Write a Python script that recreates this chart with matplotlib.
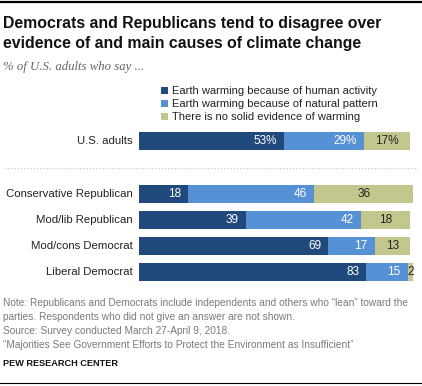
import matplotlib.pyplot as plt
from matplotlib.lines import Line2D

plt.rcParams["font.family"] = ["Liberation Sans", "DejaVu Sans"]

W, H = 422, 386

# data
groups = ["U.S. adults", "Conservative Republican", "Mod/lib Republican",
          "Mod/cons Democrat", "Liberal Democrat"]
human = [53, 18, 39, 69, 83]
natural = [29, 46, 42, 17, 15]
no_evidence = [17, 36, 18, 13, 2]
series_names = ["Earth warming because of human activity",
                "Earth warming because of natural pattern",
                "There is no solid evidence of warming"]
colors = ["#20497c", "#5690d5", "#c3c78e"]
text_colors = ["white", "white", "#222222"]

# layout (row units; US adults row sits apart from the rest)
ypos = [0, 2.04, 3.04, 4.04, 5.04]
bar_h = 0.66


def fx(px):
    return px / W


def fy(px):
    return 1 - px / H


fig = plt.figure(figsize=(W / 100, H / 100), dpi=100)
fig.patch.set_facecolor("white")

# axes: x from 139 to 413 px, y from 128 to 286 px
ax = fig.add_axes([fx(139), fy(286), fx(413) - fx(139), (286 - 128) / H])
ax.set_xlim(0, 100)
ax.set_ylim((286 - 141) / 26, -(141 - 128) / 26)
ax.axis("off")

left = [0] * len(groups)
containers = []
for i, vals in enumerate([human, natural, no_evidence]):
    bc = ax.barh(ypos, vals, left=left, height=bar_h, color=colors[i],
                 label=series_names[i], linewidth=0)
    containers.append(bc)
    for j, v in enumerate(vals):
        txt = f"{v}%" if j == 0 else f"{v}"
        if i < 2:
            ax.annotate(txt, (left[j] + v, ypos[j]), xytext=(-7, 0),
                        textcoords="offset pixels",
                        ha="right", va="center", color=text_colors[i], fontsize=8.5)
        else:
            ax.text(left[j] + v / 2, ypos[j], txt, ha="center", va="center",
                    color=text_colors[i], fontsize=8.5)
    left = [l + v for l, v in zip(left, vals)]

for y, g in zip(ypos, groups):
    ax.annotate(g, (0, y), xytext=(-6, 0), textcoords="offset pixels",
                ha="right", va="center", fontsize=8.2, color="#222222",
                annotation_clip=False)

leg = ax.legend(handles=containers, loc="upper left",
                bbox_to_anchor=(fx(161), fy(86)), bbox_transform=fig.transFigure,
                frameon=False, fontsize=8, handlelength=0.6, handleheight=0.6,
                handletextpad=0.35, labelspacing=0.28, borderpad=0, borderaxespad=0)
for t in leg.get_texts():
    t.set_color("#222222")

# separator and rules
fig.add_artist(Line2D([fx(5), fx(418)], [fy(168), fy(168)], color="#c8c8c8",
                      lw=0.9, ls=(0, (1, 1.5))))
fig.add_artist(Line2D([0, 1], [fy(1.5), fy(1.5)], color="black", lw=1.6))
fig.add_artist(Line2D([0, 1], [fy(383), fy(383)], color="black", lw=0.8))

# titles
fig.text(fx(3), fy(28), "Democrats and Republicans tend to disagree over",
         fontsize=11.4, fontweight="bold", color="#111111", va="baseline")
fig.text(fx(3), fy(48), "evidence of and main causes of climate change",
         fontsize=11.4, fontweight="bold", color="#111111", va="baseline")
fig.text(fx(3), fy(70), "% of U.S. adults who say ...", fontsize=9.2,
         family=["Liberation Serif", "DejaVu Serif"], style="italic",
         color="#666666", va="baseline")

notes = ["Note: Republicans and Democrats include independents and others who \u201clean\u201d toward the",
         "parties. Respondents who did not give an answer are not shown.",
         "Source: Survey conducted March 27-April 9, 2018.",
         "\u201cMajorities See Government Efforts to Protect the Environment as Insufficient\u201d"]
for k, line in enumerate(notes):
    fig.text(fx(3), fy(306 + 14 * k), line, fontsize=7.3, color="#7a7a7a",
             va="baseline")
fig.text(fx(3), fy(366), "PEW RESEARCH CENTER", fontsize=6.6,
         fontweight="bold", color="#111111", va="baseline")

fig.savefig("out.png", dpi=100, facecolor="white")
